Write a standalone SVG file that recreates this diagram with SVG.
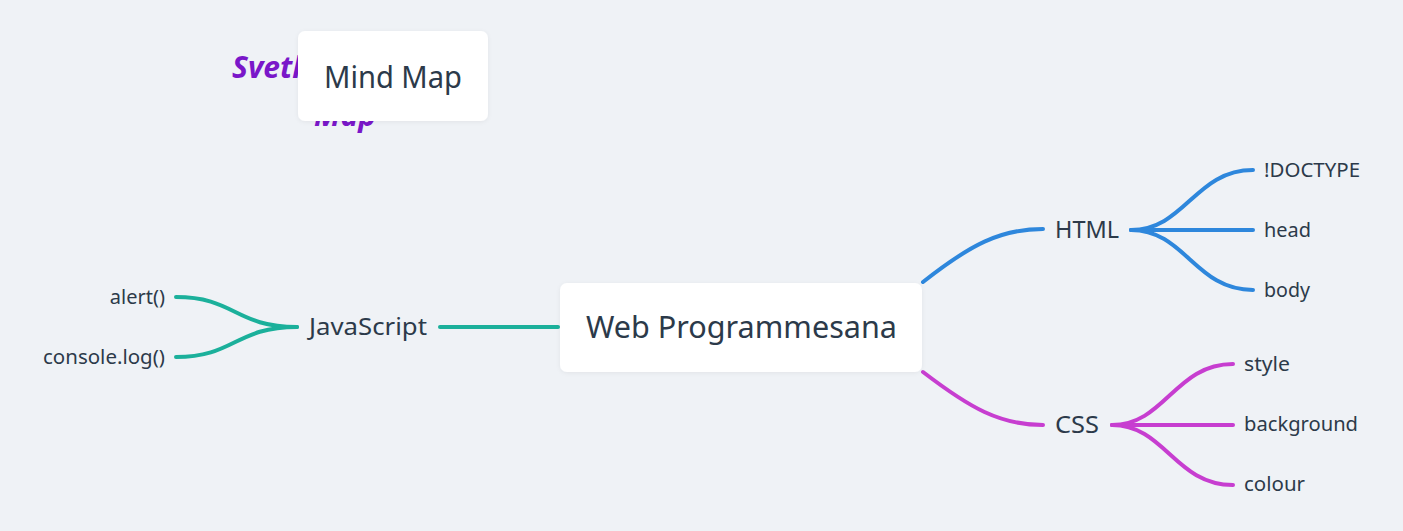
<svg xmlns="http://www.w3.org/2000/svg" width="1403" height="531" viewBox="0 0 1403 531">
<defs>
<style>
.bg{fill:#eff2f6}
.card{fill:#ffffff}
.t{font-family:"Noto Sans","DejaVu Sans",sans-serif;fill:#2c3a4a}
.big{font-size:30px}
.mid{font-size:24px}
.sm{font-size:20px}
.title{font-family:"Noto Sans","DejaVu Sans",sans-serif;font-size:30px;font-weight:bold;font-style:italic;fill:#7a17c9}
.c{fill:none;stroke-width:4;stroke-linecap:round}
.blue{stroke:#2e87dc}
.pink{stroke:#c73ed0}
.teal{stroke:#1bb09b}
</style>
<filter id="sh" x="-10%" y="-10%" width="120%" height="130%">
<feDropShadow dx="0" dy="1" stdDeviation="2" flood-color="#000" flood-opacity="0.06"/>
</filter>
</defs>
<rect class="bg" x="0" y="0" width="1403" height="531"/>
<g id="page-title">
<text class="title" x="232" y="78">Svetl</text>
<text class="title" x="314" y="126">Map</text>
</g>
<g id="connectors">
<path class="c blue" d="M923,282 C970,245 1000,229 1043,229"/>
<path class="c blue" d="M1131,230 C1185,230 1195,170 1253,170"/>
<path class="c blue" d="M1131,230 L1253,230"/>
<path class="c blue" d="M1131,230 C1185,230 1195,290 1253,290"/>
<path class="c pink" d="M923,372 C970,408 1000,425 1043,425"/>
<path class="c pink" d="M1112,425 C1165,425 1175,364 1233,364"/>
<path class="c pink" d="M1112,425 L1233,425"/>
<path class="c pink" d="M1112,425 C1165,425 1175,485 1233,485"/>
<path class="c teal" d="M440,327 L558,327"/>
<path class="c teal" d="M297,327 C235,327 235,297 176,297"/>
<path class="c teal" d="M297,327 C235,327 235,357 176,357"/>
</g>
<g id="mind-map-card">
<rect class="card" x="298" y="31" width="190" height="90" rx="7" filter="url(#sh)"/>
<text class="t big" x="324" y="88" textLength="138" lengthAdjust="spacingAndGlyphs">Mind Map</text>
</g>
<g id="root">
<rect class="card" x="560" y="283" width="362" height="89" rx="7" filter="url(#sh)"/>
<text class="t big" x="586" y="338" textLength="311" lengthAdjust="spacingAndGlyphs">Web Programmesana</text>
</g>
<g id="html"><text class="t mid" x="1055" y="238" textLength="64" lengthAdjust="spacingAndGlyphs">HTML</text></g>
<g id="doctype"><text class="t sm" x="1264" y="177" textLength="96" lengthAdjust="spacingAndGlyphs">!DOCTYPE</text></g>
<g id="head"><text class="t sm" x="1264" y="237" textLength="47" lengthAdjust="spacingAndGlyphs">head</text></g>
<g id="body"><text class="t sm" x="1264" y="297" textLength="46" lengthAdjust="spacingAndGlyphs">body</text></g>
<g id="css"><text class="t mid" x="1055" y="433" textLength="44" lengthAdjust="spacingAndGlyphs">CSS</text></g>
<g id="style"><text class="t sm" x="1244" y="371" textLength="46" lengthAdjust="spacingAndGlyphs">style</text></g>
<g id="background"><text class="t sm" x="1244" y="431" textLength="114" lengthAdjust="spacingAndGlyphs">background</text></g>
<g id="colour"><text class="t sm" x="1244" y="491" textLength="61" lengthAdjust="spacingAndGlyphs">colour</text></g>
<g id="javascript"><text class="t mid" x="309" y="335" textLength="118" lengthAdjust="spacingAndGlyphs">JavaScript</text></g>
<g id="alert"><text class="t sm" x="165" y="304" text-anchor="end">alert()</text></g>
<g id="console-log"><text class="t sm" x="165" y="364" text-anchor="end" textLength="122" lengthAdjust="spacingAndGlyphs">console.log()</text></g>
</svg>
